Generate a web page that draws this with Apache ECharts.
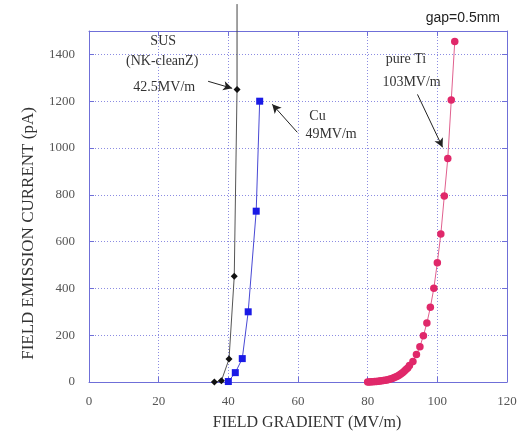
<html>
<head>
<meta charset="utf-8">
<script src="https://cdn.jsdelivr.net/npm/echarts@6/dist/echarts.min.js"></script>
<style>
  body { margin: 0; background: #fff; }
  #container { width: 522px; height: 436px; }
</style>
</head>
<body>
<div id="container"></div>
<script>
// SUS (NK-cleanZ) - black diamonds
var susX = [36, 38, 40.2, 41.7, 42.5];
var susY = [0, 5, 98, 452, 1250];
// fit line continues straight up past the frame
var susTailX = [42.5, 42.5];
var susTailY = [1250, 1615];

// Cu - blue squares
var cuX = [40, 42, 44, 45.7, 48, 49];
var cuY = [2, 40, 100, 300, 730, 1200];

// pure Ti - crimson circles
var tiX = [80, 80.5, 81, 81.5, 82, 82.5, 83, 83.5, 84, 84.5, 85, 85.5, 86, 86.5, 87, 87.5,
           88, 88.5, 89, 89.5, 90, 90.5, 91, 91.5, 92, 93, 94, 95, 96, 97, 98, 99,
           100, 101, 102, 103, 104, 105];
var tiY = [0, 0.5, 1, 1, 2, 2, 3, 4, 5, 6, 7, 9, 11, 13, 15, 18,
           21, 25, 29, 34, 40, 46, 53, 60, 70, 88, 117, 151, 198, 252, 319, 401,
           510, 632, 795, 955, 1205, 1455];

var xTicks = [0, 20, 40, 60, 80, 100, 120];
var yTicks = [0, 200, 400, 600, 800, 1000, 1200, 1400];

// annotation texts, anchored in data units
var notes = [
  { text: 'SUS', at: [21.3, 1455] },
  { text: '(NK-cleanZ)', at: [21.0, 1370] },
  { text: '42.5MV/m', at: [21.6, 1259] },
  { text: 'Cu', at: [65.6, 1135] },
  { text: '49MV/m', at: [69.5, 1058] },
  { text: 'pure Ti', at: [91.0, 1379] },
  { text: '103MV/m', at: [92.6, 1280] }
];
var arrows = [
  [[34.2, 1285], [41.1, 1255]],
  [[59.8, 1067], [52.6, 1187]],
  [[94.3, 1229], [101.5, 1003]]
];

function pairs(xs, ys) {
  return xs.map(function (x, i) { return [x, ys[i]]; });
}

var frame = '#6f6fd8';
var serif = '"Liberation Serif", "DejaVu Serif", serif';
var dotted = { color: '#8c8ce2', type: [1, 2], width: 1 };

var chart = echarts.init(document.getElementById('container'));

var baseX = {
  type: 'value', min: 0, max: 120, interval: 20,
  axisLine: { show: true, onZero: false, lineStyle: { color: frame, width: 1 } },
  axisTick: { show: true, inside: true, length: 5, lineStyle: { color: frame } },
  splitLine: { show: false }
};
var baseY = {
  type: 'value', min: 0, max: 1500, interval: 200,
  axisLine: { show: true, onZero: false, lineStyle: { color: frame, width: 1 } },
  axisTick: { show: true, inside: true, length: 5, lineStyle: { color: frame } },
  splitLine: { show: false }
};

var option = {
  animation: false,
  backgroundColor: '#fff',
  grid: { left: 89, right: 15, top: 31, bottom: 53, show: false },
  title: {
    text: 'gap=0.5mm', right: 17, top: 6,
    textStyle: { fontFamily: '"Liberation Sans", Arial, sans-serif', fontSize: 14, fontWeight: 'normal', color: '#222' }
  },
  xAxis: [
    Object.assign({}, baseX, {
      position: 'bottom',
      name: 'FIELD GRADIENT (MV/m)', nameLocation: 'middle', nameGap: 33,
      nameTextStyle: { fontFamily: serif, fontSize: 16, color: '#333', padding: [0, 0, 0, 18] },
      axisLabel: { margin: 13, fontFamily: serif, fontSize: 13, color: '#555',
        formatter: function (v) { return xTicks.indexOf(v) >= 0 ? String(v) : ''; } },
      splitLine: { show: true, lineStyle: dotted }
    }),
    Object.assign({}, baseX, { position: 'top', axisLabel: { show: false } })
  ],
  yAxis: [
    Object.assign({}, baseY, {
      position: 'left',
      name: 'FIELD EMISSION CURRENT (pA)', nameLocation: 'middle', nameGap: 52,
      nameTextStyle: { fontFamily: serif, fontSize: 17, color: '#333', padding: [0, 54, 0, 0] },
      axisLabel: { margin: 14, fontFamily: serif, fontSize: 13, color: '#555', showMaxLabel: false,
        formatter: function (v) { return yTicks.indexOf(v) >= 0 ? String(v) : ''; } },
      splitLine: { show: true, lineStyle: dotted }
    }),
    Object.assign({}, baseY, { position: 'right', axisLabel: { show: false } })
  ],
  series: [
    {
      name: 'SUS tail', type: 'line', data: pairs(susTailX, susTailY), clip: false,
      symbol: 'none', lineStyle: { color: '#444', width: 1 }, z: 2
    },
    {
      name: 'SUS', type: 'line', data: pairs(susX, susY),
      symbol: 'diamond', symbolSize: 7,
      itemStyle: { color: '#111' }, lineStyle: { color: '#555', width: 1 },
      markLine: {
        silent: true, symbol: ['none', 'arrow'], symbolSize: [7, 9],
        label: { show: false },
        lineStyle: { color: '#222', width: 1, type: 'solid' },
        data: arrows.map(function (a) { return [{ coord: a[0] }, { coord: a[1] }]; })
      }
    },
    {
      name: 'Cu', type: 'line', data: pairs(cuX, cuY),
      symbol: 'rect', symbolSize: 7,
      itemStyle: { color: '#1a1ae6' }, lineStyle: { color: '#4848d4', width: 1 }
    },
    {
      name: 'pure Ti', type: 'line', data: pairs(tiX, tiY),
      symbol: 'circle', symbolSize: 7.5,
      itemStyle: { color: '#e0286a' }, lineStyle: { color: '#e0608e', width: 1 }
    }
  ]
};

chart.setOption(option);

chart.setOption({
  graphic: notes.map(function (n) {
    var p = chart.convertToPixel({ xAxisIndex: 0, yAxisIndex: 0 }, n.at);
    return {
      type: 'text', x: p[0], y: p[1],
      style: { text: n.text, fill: '#333', font: '14px ' + serif, align: 'center', verticalAlign: 'middle' }
    };
  })
});
</script>
</body>
</html>
